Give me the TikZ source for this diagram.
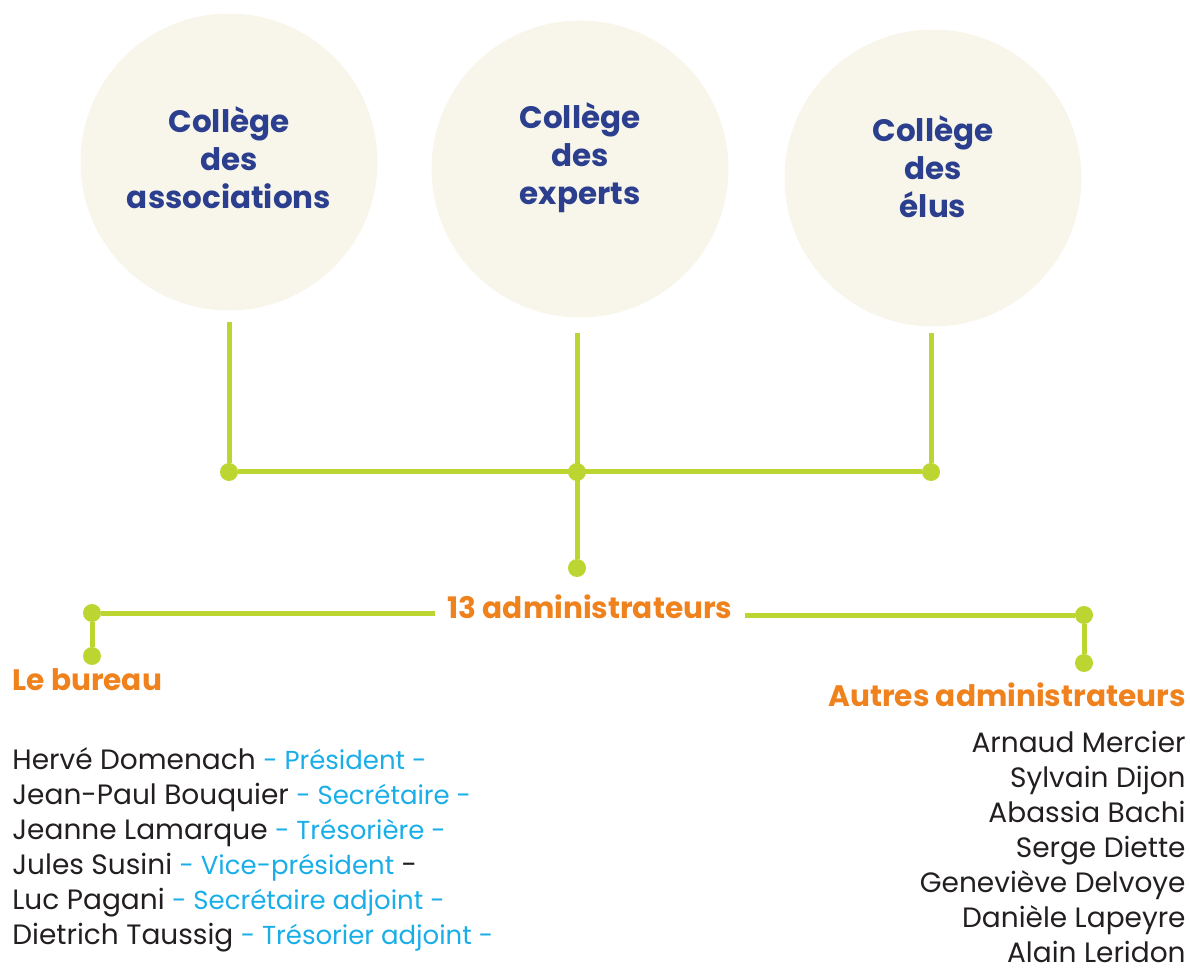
\documentclass[tikz,border=0pt]{standalone}
\usepackage{fontspec}
\setmainfont{Poppins}
\usepackage{tikz}
\usetikzlibrary{positioning}
\definecolor{collegecream}{HTML}{F8F6EB}
\definecolor{collegeblue}{HTML}{2B3F8E}
\definecolor{linkgreen}{HTML}{BDD531}
\definecolor{titleorange}{HTML}{F0821E}
\definecolor{roleblue}{HTML}{1AAEE8}
\definecolor{nametext}{HTML}{231F20}
\newcommand{\rolename}[1]{{\fontsize{13}{17.5}\selectfont\textcolor{roleblue}{#1}}}

\begin{document}
\begin{tikzpicture}[x=0.5pt, y=-0.5pt,
  college/.style={circle, fill=collegecream, inner sep=0pt, minimum size=148.5pt},
  collegetext/.style={text=collegeblue, align=center, font=\fontsize{15.5}{19}\selectfont\bfseries},
  link/.style={draw=linkgreen, line width=2.5pt},
  dot/.style={circle, fill=linkgreen, inner sep=0pt, minimum size=9pt},
  grouptitle/.style={text=titleorange, inner sep=0pt, font=\fontsize{14.8}{18}\selectfont\bfseries},
  namelist/.style={text=nametext, inner sep=0pt, font=\fontsize{14}{17.5}\selectfont}]
  \useasboundingbox (0,0) rectangle (1190,968);
  % colleges
  \node [college] (C1) at (229,162) {};
  \node [college] (C2) at (580,169) {};
  \node [college] (C3) at (933,178) {};
  \node [collegetext] (T1) at (229,158) {Collège\\des\\associations};
  \node [collegetext] (T2) at (580,158) {Collège\\des\\experts};
  \node [collegetext] (T3) at (933,167) {Collège\\des\\élus};
  % junctions
  \coordinate (S1) at (229,322);
  \coordinate (S2) at (577,333);
  \coordinate (S3) at (931,333);
  \node [dot] (J1) at (229,472) {};
  \node [dot] (J2) at (577,472) {};
  \node [dot] (J3) at (931,472) {};
  \node [dot] (D) at (577,568) {};
  \draw [link] (S1) -- (J1);
  \draw [link] (S2) -- (D);
  \draw [link] (S3) -- (J3);
  \draw [link] (J1) -- (J3);
  % 13 administrateurs
  \node [grouptitle, inner xsep=6pt, anchor=base] (A) at (590,618) {13 administrateurs};
  \node [dot] (L1) at (92,613) {};
  \node [dot] (L2) at (92,656) {};
  \node [dot] (R1) at (1084,615) {};
  \node [dot] (R2) at (1084,663) {};
  \draw [link] (L1) -- (L1 -| A.west);
  \draw [link] (R1 -| A.east) -- (R1);
  \draw [link] (L1) -- (L2);
  \draw [link] (R1) -- (R2);
  % bureau
  \node [grouptitle, anchor=base west] (B) at (12,690) {Le bureau};
  \node [namelist, anchor=north west, align=left] (BL) at (12,747) {Hervé Domenach \rolename{- Président -}\\
    Jean-Paul Bouquier \rolename{- Secrétaire -}\\
    Jeanne Lamarque \rolename{- Trésorière -}\\
    Jules Susini \rolename{- Vice-président} -\\
    Luc Pagani \rolename{- Secrétaire adjoint -}\\
    Dietrich Taussig \rolename{- Trésorier adjoint -}};
  % autres
  \node [grouptitle, anchor=base east] (O) at (1186,706) {Autres administrateurs};
  \node [namelist, anchor=north east, align=right] (OL) at (1186,731) {Arnaud Mercier\\
    Sylvain Dijon\\
    Abassia Bachi\\
    Serge Diette\\
    Geneviève Delvoye\\
    Danièle Lapeyre\\
    Alain Leridon};
\end{tikzpicture}
\end{document}
